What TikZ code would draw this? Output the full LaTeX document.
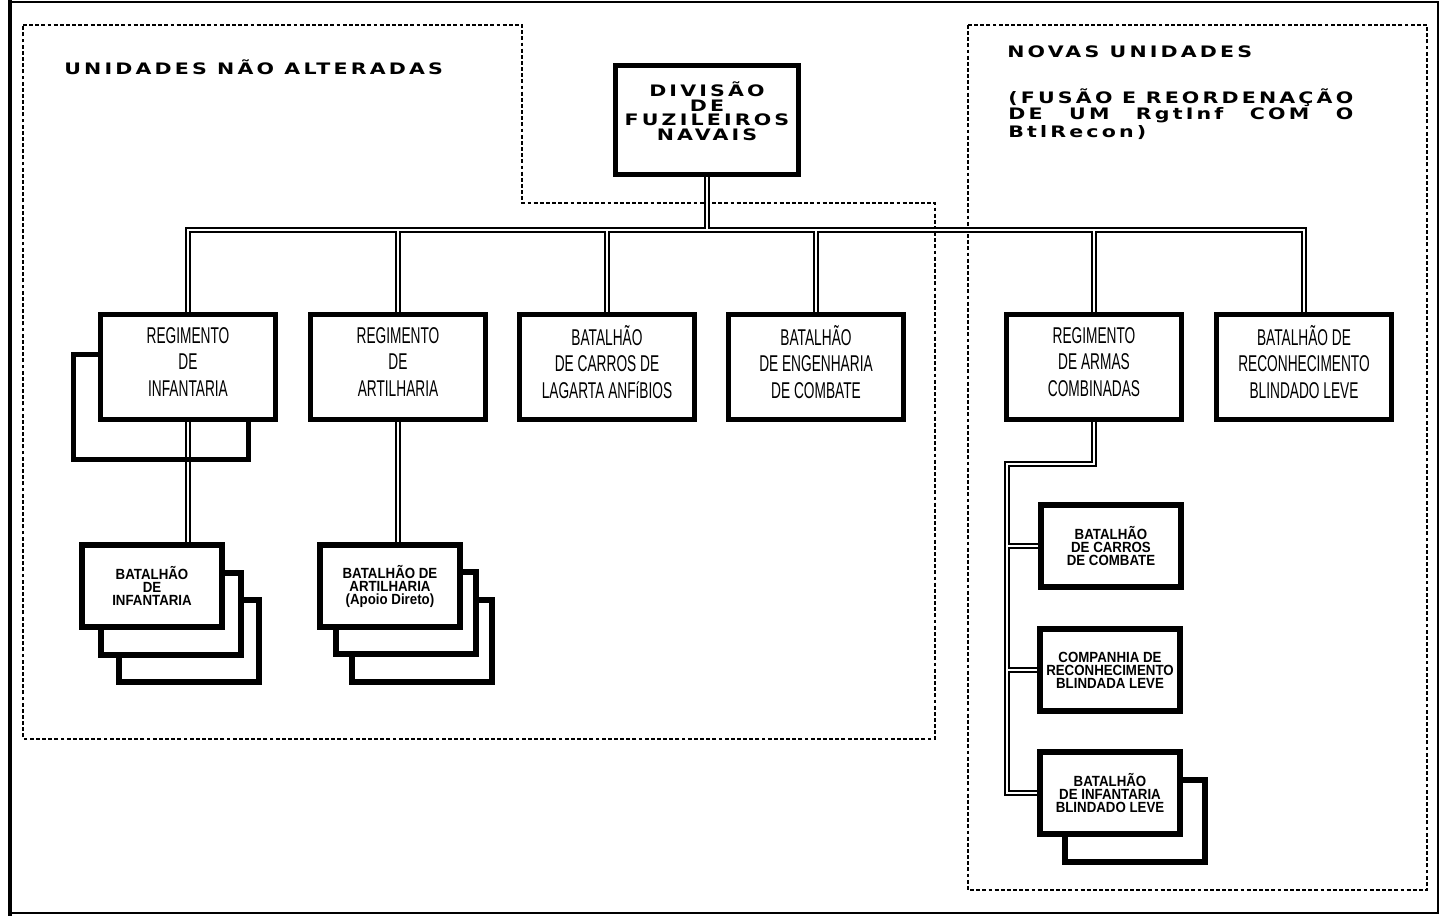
\documentclass[tikz,border=0pt]{standalone}
\usepackage{fontspec}
\setmainfont{Liberation Sans}
\newfontfamily\plotfont[LetterSpace=20,FakeStretch=1.3]{DejaVu Sans Bold}
\newfontfamily\narrowfont[FakeStretch=0.6]{Liberation Sans}
\newfontfamily\kidfont[FakeStretch=0.9]{Liberation Sans}
\pgfdeclarelayer{back}
\pgfsetlayers{back,main}
\begin{document}
\begin{tikzpicture}[x=0.02cm,y=-0.02cm,
    unitbox/.style={draw,line width=3pt,fill=white,inner sep=0pt,minimum width=3.5cm,minimum height=2.1cm,align=center,font=\narrowfont\fontsize{13}{15.3}\selectfont},
    kidbox/.style={draw,line width=3pt,fill=white,inner sep=0pt,minimum width=2.8cm,minimum height=1.64cm,align=center,font=\kidfont\bfseries\fontsize{8.4}{7.4}\selectfont},
    plot/.style={inner sep=0pt,font=\plotfont\fontsize{9}{7}\selectfont},
    link/.style={double,double distance=0.9pt,line width=1.1pt},
    zone/.style={line width=1.1pt,dash pattern=on 2.2pt off 1.3pt}]
  \useasboundingbox (0,0) rectangle (1441,916);
  \draw[line width=1.6pt] (10,2) rectangle (1438,913);
  \draw[line width=2.6pt] (10,0) -- (10,916);

  % titulos
  \node[plot,anchor=west] (naoalt) at (64,67) {UNIDADES NÃO ALTERADAS};
  \node[plot,anchor=west] (novas) at (1007,52) {NOVAS UNIDADES};
  \node[plot,anchor=north west,text width=6.9cm,align=justify] (fusao) at (1008,88)
    {(FUSÃO E REORDENAÇÃO\linebreak DE UM RgtInf COM O\linebreak BtlRecon)};

  % divisao
  \node[unitbox,minimum width=3.66cm,minimum height=2.18cm,font=\plotfont\fontsize{9}{8.3}\selectfont] (divisao) at (707,120) {DIVISÃO\\DE\\FUZILEIROS\\NAVAIS\\[2pt]};

  % primeira linha
  \node[unitbox,fill=none] (reginfb) at (161,407) {};
  \node[unitbox] (reginf) at (188,367) {REGIMENTO\\DE\\INFANTARIA\\[-9.5pt]};
  \node[unitbox] (regart) at (398,367) {REGIMENTO\\DE\\ARTILHARIA\\[-9.5pt]};
  \node[unitbox] (batcla) at (607,367) {BATALHÃO\\DE CARROS DE\\LAGARTA ANFíBIOS\\[-9.5pt]};
  \node[unitbox] (bateng) at (816,367) {BATALHÃO\\DE ENGENHARIA\\DE COMBATE\\[-9.5pt]};
  \node[unitbox] (regarm) at (1094,367) {REGIMENTO\\DE ARMAS\\COMBINADAS\\[-9.5pt]};
  \node[unitbox] (batrec) at (1304,367) {BATALHÃO DE\\RECONHECIMENTO\\BLINDADO LEVE\\[-9.5pt]};

  % batalhoes
  \node[kidbox] (batinfc) at (189,641) {};
  \node[kidbox] (batinfb) at (171,614) {};
  \node[kidbox] (batinf) at (152,586) {BATALHÃO\\DE\\INFANTARIA};
  \node[kidbox] (batartc) at (422,641) {};
  \node[kidbox] (batartb) at (406,613) {};
  \node[kidbox] (batart) at (390,586) {BATALHÃO DE\\ARTILHARIA\\(Apoio Direto)};

  \node[kidbox] (batcc) at (1111,546) {BATALHÃO\\DE CARROS\\DE COMBATE};
  \node[kidbox] (cia) at (1110,670) {COMPANHIA DE\\RECONHECIMENTO\\BLINDADA LEVE};
  \node[kidbox] (batiblb) at (1135,821) {};
  \node[kidbox] (batibl) at (1110,793) {BATALHÃO\\DE INFANTARIA\\BLINDADO LEVE};

  \coordinate (bus) at (707,230);
  \coordinate (elbow) at (1007,464);

  \begin{pgfonlayer}{back}
    \draw[zone] (23,25) -- (522,25) -- (522,203) -- (935,203) -- (935,739) -- (23,739) -- cycle;
    \draw[zone] (968,25) rectangle (1427,890);
    \draw[link] (divisao.south) -- (bus)
      (reginf.north) |- (bus) -| (batrec.north)
      (regart.north) -- (regart.north |- bus)
      (batcla.north) -- (batcla.north |- bus)
      (bateng.north) -- (bateng.north |- bus)
      (regarm.north) -- (regarm.north |- bus)
      (reginf.south) -- (reginf.south |- batinf.north)
      (regart.south) -- (regart.south |- batart.north)
      (regarm.south) |- (elbow) |- (batibl.west)
      (elbow |- batcc.west) -- (batcc.west)
      (elbow |- cia.west) -- (cia.west);
  \end{pgfonlayer}
\end{tikzpicture}
\end{document}
